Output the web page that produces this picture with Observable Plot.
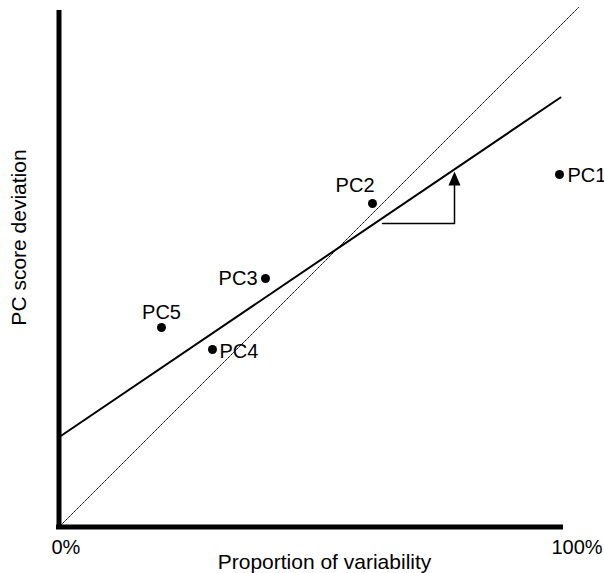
<!DOCTYPE html>
<html>
<head>
<meta charset="utf-8">
<script src="https://cdn.jsdelivr.net/npm/d3@7"></script>
<script src="https://cdn.jsdelivr.net/npm/@observablehq/plot@0.6"></script>
<style>
  html, body { margin: 0; padding: 0; background: #fff; }
  #chart svg { display: block; }
</style>
</head>
<body>
<div id="chart"></div>
<script>
// Principal components: proportion of variability (%) vs PC score deviation (arbitrary units)
const pcNames = ["PC1", "PC2", "PC3", "PC4", "PC5"];
const pcVariability = [99.6, 62.2, 40.8, 30.2, 20.0];
const pcDeviation = [70.0, 64.2, 49.2, 35.0, 39.4];

// Reference diagonal (equal proportion) and fitted line endpoints
const diagonalX = [0, 103.4];
const diagonalY = [0, 103.4];
const fitX = [0, 99.8];
const fitY = [17.8, 85.4];

// Slope indicator (step under the fitted line)
const stepX = [64.2, 78.6, 78.6];
const stepY = [60.2, 60.2, 67.8];
const arrowTipX = [78.6];
const arrowTipY = [70.6];

// Axis extents and tick labels
const axisTopY = 102.8;
const axisRightX = 100.4;
const xTickValues = [0, 100];
const xTickLabels = ["0%", "100%"];
const xTitle = "Proportion of variability";
const yTitle = "PC score deviation";

const points = pcNames.map((name, i) => ({name, x: pcVariability[i], y: pcDeviation[i]}));
const diagonal = diagonalX.map((x, i) => ({x, y: diagonalY[i]}));
const fit = fitX.map((x, i) => ({x, y: fitY[i]}));
const step = stepX.map((x, i) => ({x, y: stepY[i]}));
const tip = arrowTipX.map((x, i) => ({x, y: arrowTipY[i]}));
const ticks = xTickValues.map((v, i) => ({v, label: xTickLabels[i]}));

const arrowhead = {
  draw(context) {
    context.moveTo(0, 0);
    context.lineTo(6, 14);
    context.lineTo(-6, 14);
    context.closePath();
  }
};

const byName = (names) => points.filter(d => names.includes(d.name));

const chart = Plot.plot({
  width: 604,
  height: 573,
  marginLeft: 61,
  marginRight: 43,
  marginTop: 24,
  marginBottom: 49,
  x: {domain: [0, 100], axis: null},
  y: {domain: [0, 100], axis: null},
  style: {
    fontFamily: "'Liberation Sans', Arial, Helvetica, sans-serif",
    fontSize: "20px",
    background: "#fff",
    color: "#000",
    overflow: "visible"
  },
  marks: [
    // dotted diagonal
    Plot.line(diagonal, {x: "x", y: "y", stroke: "#000", strokeWidth: 1, strokeDasharray: "1,1.2"}),
    // fitted line
    Plot.line(fit, {x: "x", y: "y", stroke: "#000", strokeWidth: 2}),
    // step + arrowhead
    Plot.line(step, {x: "x", y: "y", stroke: "#000", strokeWidth: 1.5}),
    Plot.dot(tip, {x: "x", y: "y", symbol: arrowhead, fill: "#000", stroke: "none"}),
    // axes
    Plot.ruleX([0], {y1: -1, y2: axisTopY, stroke: "#000", strokeWidth: 5, dx: -2.5}),
    Plot.ruleY([0], {x1: -1, x2: axisRightX, stroke: "#000", strokeWidth: 5, dy: 2.5}),
    // points
    Plot.dot(points, {x: "x", y: "y", r: 4.5, fill: "#000", stroke: "none"}),
    // point labels
    Plot.text(byName(["PC1"]), {x: "x", y: "y", text: "name", textAnchor: "start", dx: 8, dy: 1.5, fontSize: 20}),
    Plot.text(byName(["PC4"]), {x: "x", y: "y", text: "name", textAnchor: "start", dx: 7, dy: 2, fontSize: 20}),
    Plot.text(byName(["PC3"]), {x: "x", y: "y", text: "name", textAnchor: "end", dx: -8, dy: 0, fontSize: 20}),
    Plot.text(byName(["PC2"]), {x: "x", y: "y", text: "name", textAnchor: "end", dx: 2, dy: -17.5, fontSize: 20}),
    Plot.text(byName(["PC5"]), {x: "x", y: "y", text: "name", textAnchor: "middle", dx: 0, dy: -14.5, fontSize: 20}),
    // x tick labels
    Plot.text(ticks, {x: "v", frameAnchor: "bottom", text: "label", textAnchor: "start", lineAnchor: "bottom", dx: -10, dy: 29, fontSize: 20}),
    // axis titles
    Plot.text([xTitle], {frameAnchor: "bottom", text: d => d, lineAnchor: "bottom", dx: 13, dy: 44, fontSize: 21}),
    Plot.text([yTitle], {frameAnchor: "left", text: d => d, rotate: -90, textAnchor: "middle", lineAnchor: "bottom", dx: -36, dy: -37, fontSize: 21})
  ]
});

document.getElementById("chart").appendChild(chart);
</script>
</body>
</html>
